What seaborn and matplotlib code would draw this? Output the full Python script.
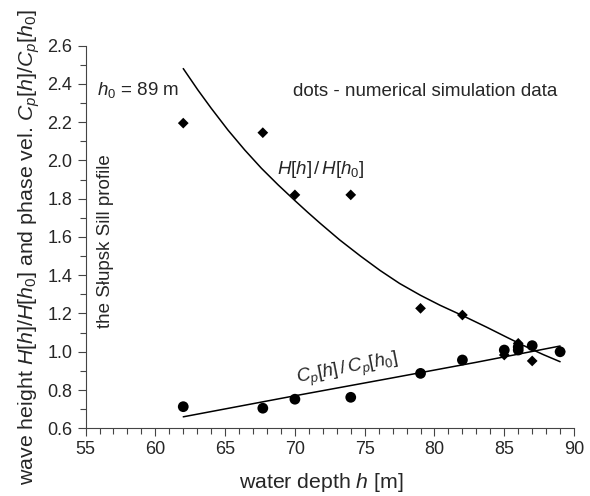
import matplotlib
matplotlib.use('Agg')
import matplotlib.pyplot as plt
import seaborn as sns
from matplotlib.ticker import MultipleLocator, FormatStrFormatter

# numerical simulation points
depth_pts = [62, 67.7, 70, 74, 79, 82, 85, 86, 87, 89]
H_pts = [2.195, 2.145, 1.82, 1.82, 1.227, 1.192, 0.983, 1.044, 0.952, 1.0]
depth_cp = [62, 67.7, 70, 74, 79, 82, 85, 86, 86, 87, 89]
Cp_pts = [0.713, 0.705, 0.752, 0.762, 0.887, 0.957, 1.009, 1.009, 1.025, 1.032, 1.0]

# theoretical curves
depth_H_curve = [62.0, 63.05, 64.0, 65.2, 66.4, 67.6, 68.8, 70.0, 70.9, 71.8, 73.2, 74.7,
                 76.1, 77.5, 79.0, 80.4, 82.1, 83.75, 85.2, 86.6, 87.8, 89.0]
H_curve = [2.48, 2.368, 2.273, 2.159, 2.055, 1.959, 1.872, 1.79, 1.73, 1.672, 1.585, 1.50,
           1.425, 1.357, 1.295, 1.243, 1.186, 1.128, 1.075, 1.025, 0.985, 0.948]
depth_cp_curve = [62, 70, 76.8, 83, 89]
Cp_curve = [0.66, 0.77, 0.861, 0.945, 1.03]

sns.set_style('ticks')
plt.rcParams['font.family'] = ['Liberation Sans', 'DejaVu Sans']
plt.rcParams['mathtext.fontset'] = 'custom'
plt.rcParams['mathtext.rm'] = 'Liberation Sans'
plt.rcParams['mathtext.it'] = 'Liberation Sans:italic'

fig = plt.figure(figsize=(5.9, 4.96), dpi=100)
ax = fig.add_axes([0.145, 0.1365, 0.828, 0.7715])

sns.lineplot(x=depth_H_curve, y=H_curve, color='black', lw=1.1, ax=ax)
sns.lineplot(x=depth_cp_curve, y=Cp_curve, color='black', lw=1.1, ax=ax)
sns.scatterplot(x=depth_pts, y=H_pts, marker='D', s=30, color='black', edgecolor='none', ax=ax, zorder=3)
sns.scatterplot(x=depth_cp, y=Cp_pts, marker='o', s=60, color='black', edgecolor='none', ax=ax, zorder=3)

ax.set_xlim(55, 90)
ax.set_ylim(0.6, 2.6)
ax.xaxis.set_major_locator(MultipleLocator(5))
ax.xaxis.set_minor_locator(MultipleLocator(1))
ax.yaxis.set_major_locator(MultipleLocator(0.2))
ax.yaxis.set_minor_locator(MultipleLocator(0.1))
ax.yaxis.set_major_formatter(FormatStrFormatter('%.1f'))
ax.tick_params(which='major', direction='out', length=6, width=0.8, labelsize=13, color='#444444')
ax.tick_params(which='minor', direction='out', length=4, width=0.8, color='#444444')
for s in ['top', 'right']:
    ax.spines[s].set_visible(False)
for s in ['left', 'bottom']:
    ax.spines[s].set_color('#444444')
    ax.spines[s].set_linewidth(0.8)

ax.set_xlabel('water depth $h$ [m]', fontsize=15.3, labelpad=9)
ax.set_ylabel('wave height $H[h]/H[h_0]$ and phase vel. $C_p[h]/C_p[h_0]$', fontsize=15.4, labelpad=4)
ax.xaxis.label.set_x(0.483)
ax.yaxis.label.set_y(0.474)

ax.text(55.8, 2.37, '$h_0$ = 89 m', fontsize=13.5, va='center')
ax.text(69.85, 2.358, 'dots - numerical simulation data', fontsize=13.5, va='center')
ax.text(68.7, 1.95, '$H[h]\\,/\\,H[h_0]$', fontsize=13.5, va='center')
ax.text(73.8, 0.905, '$C_p[h]\\,/\\,C_p[h_0]$', fontsize=13.5, va='center', ha='center', rotation=11)
ax.text(56.45, 1.58, 'the Słupsk Sill profile', fontsize=13.5, va='center', ha='center', rotation=90)

fig.savefig('out.png', dpi=100)
